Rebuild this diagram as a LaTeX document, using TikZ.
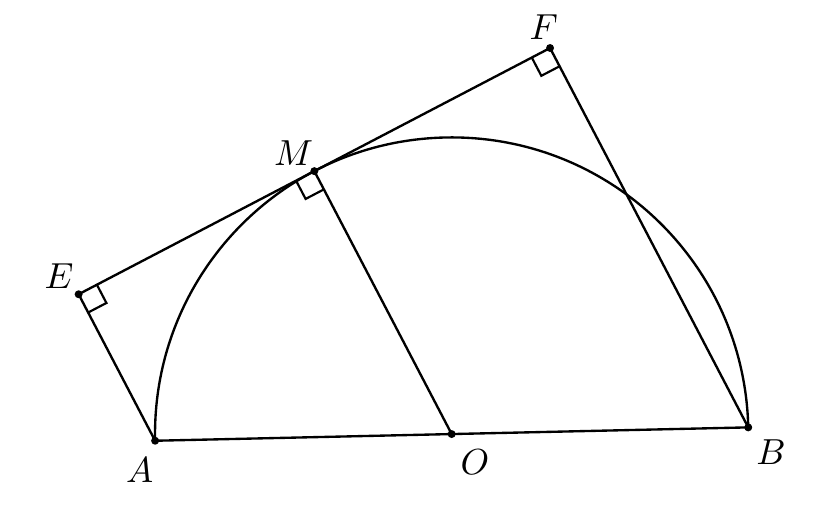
\documentclass[tikz,border=0pt]{standalone}
\usepackage{amsmath}
\usepackage{tikz}
\usetikzlibrary{calc}

\begin{document}
\begin{tikzpicture}[
    line/.style={line width=0.65pt},
    anglemark/.style={line width=0.6pt},
    ptlabel/.style={inner sep=0pt, font=\normalsize}
]
\useasboundingbox (-4.385,-0.757) rectangle (3.634,4.214);

% Points on the circle
\coordinate (O) at (0,0);
\coordinate (A) at (181.29:2.88);
\coordinate (B) at (1.29:2.88);
\coordinate (M) at (117.58:2.88);

% Tangent at M and feet of the perpendiculars
\coordinate (T) at ($(M)+(27.58:1)$);
\coordinate (E) at ($(M)!(A)!(T)$);
\coordinate (F) at ($(M)!(B)!(T)$);

% Semicircle and segments
\draw[line] (B) arc[start angle=1.29, end angle=181.29, radius=2.88];
\draw[line] (A) -- (O) -- (B);
\draw[line] (E) -- (M) -- (F);
\draw[line] (A) -- (E);
\draw[line] (B) -- (F);
\draw[line] (M) -- (O);

% Right angle marks
\foreach \v/\p/\q in {E/M/A, M/E/O, F/M/B} {
    \coordinate (r1) at ($(\v)!0.2cm!(\p)$);
    \coordinate (r2) at ($(\v)!0.2cm!(\q)$);
    \draw[anglemark] (r1) -- ($(r1)+(r2)-(\v)$) -- (r2);
}

% Dots
\foreach \p in {A,O,B,M,E,F}
    \fill (\p) circle (1.1pt);

% Labels
\node[ptlabel] (labA) at ($(A)+(-0.15,-0.29)$) {$A$};
\node[ptlabel] (labO) at ($(O)+(0.226,-0.27)$) {$O$};
\node[ptlabel] (labB) at ($(B)+(0.22,-0.24)$) {$B$};
\node[ptlabel] (labE) at ($(E)+(-0.19,0.18)$) {$E$};
\node[ptlabel] (labM) at ($(M)+(-0.2,0.17)$) {$M$};
\node[ptlabel] (labF) at ($(F)+(-0.06,0.2)$) {$F$};

\end{tikzpicture}
\end{document}
